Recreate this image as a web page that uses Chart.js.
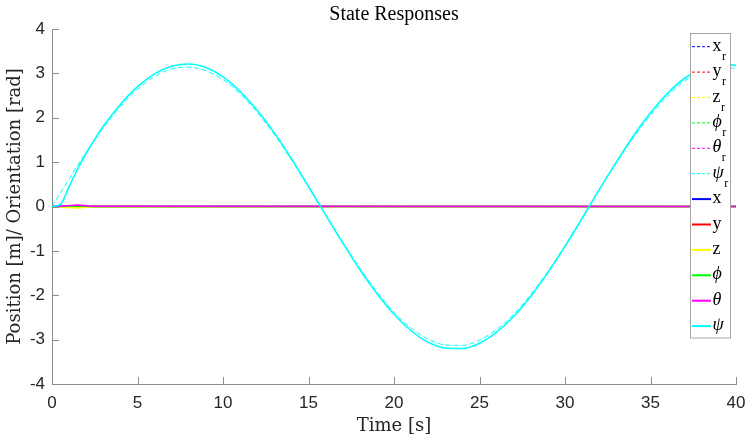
<!DOCTYPE html>
<html>
<head>
<meta charset="utf-8">
<script src="https://cdn.jsdelivr.net/npm/chart.js@4"></script>
<style>
html, body { margin: 0; padding: 0; background: #fff; }
</style>
</head>
<body>
<canvas id="myChart" width="747" height="439"></canvas>
<script>
// sample times [s] for the yaw curves
const time = [0, 0.5, 1, 1.5, 2, 3, 4, 5, 6, 7, 8, 9, 10, 11, 12, 13, 14, 15, 16, 17, 18, 19, 20,
              21, 22, 23, 24, 25, 26, 27, 28, 29, 30, 31, 32, 33, 34, 35, 36, 37, 38, 39, 40];

// reference yaw (dashed cyan)
const psiRef = [0, 0.31, 0.62, 0.93, 1.22, 1.77, 2.25, 2.64, 2.93, 3.10, 3.14, 3.06, 2.86, 2.54, 2.12, 1.62, 1.05, 0.44,
                -0.18, -0.80, -1.39, -1.92, -2.38, -2.74, -2.99, -3.12, -3.13, -3.01, -2.77, -2.43, -1.98, -1.46, -0.88,
                -0.26, 0.37, 0.98, 1.55, 2.06, 2.49, 2.83, 3.04, 3.14, 3.11];

// actual yaw (solid cyan)
const psi = [0, 0.05, 0.45, 0.85, 1.2, 1.81, 2.30, 2.70, 2.99, 3.16, 3.21, 3.13, 2.92, 2.59, 2.17, 1.66, 1.08, 0.45,
             -0.19, -0.82, -1.42, -1.96, -2.43, -2.80, -3.06, -3.19, -3.20, -3.08, -2.83, -2.48, -2.02, -1.49, -0.90,
             -0.27, 0.38, 1.00, 1.59, 2.11, 2.55, 2.89, 3.11, 3.21, 3.18];

// the other states stay close to zero
const flatTime = [0, 0.8, 1.5, 2.5, 40];
const xRef = [0, 0, 0, 0, 0];
const yRef = [0, 0, 0, 0, 0];
const zRef = [0, 0, 0, 0, 0];
const phiRef = [0, 0, 0, 0, 0];
const thetaRef = [0, 0, 0, 0, 0];
const xPos = [0, 0, 0, 0, 0];
const yPos = [0, 0.005, 0.01, 0, 0];
const zPos = [0, -0.02, -0.03, -0.005, 0];
const phi = [0, 0.005, 0.01, 0, 0];
const theta = [0, 0.015, 0.03, 0.005, 0];

const xTicks = [0, 5, 10, 15, 20, 25, 30, 35, 40];
const yTicks = [-4, -3, -2, -1, 0, 1, 2, 3, 4];

function pts(xs, ys) {
    return xs.map((t, i) => ({x: t, y: ys[i]}));
}

const series = [
    {main: 'x', sub: 'r', color: '#0000ff', dashed: true, xs: flatTime, ys: xRef},
    {main: 'y', sub: 'r', color: '#ff0000', dashed: true, xs: flatTime, ys: yRef},
    {main: 'z', sub: 'r', color: '#ffff00', dashed: true, xs: flatTime, ys: zRef},
    {main: '\u03D5', sub: 'r', color: '#00ff00', dashed: true, xs: flatTime, ys: phiRef},
    {main: '\u03B8', sub: 'r', color: '#ff00ff', dashed: true, xs: flatTime, ys: thetaRef},
    {main: '\u03C8', sub: 'r', color: '#00ffff', dashed: true, xs: time, ys: psiRef},
    {main: 'x', sub: '', color: '#0000ff', dashed: false, xs: flatTime, ys: xPos},
    {main: 'y', sub: '', color: '#ff0000', dashed: false, xs: flatTime, ys: yPos},
    {main: 'z', sub: '', color: '#ffff00', dashed: false, xs: flatTime, ys: zPos},
    {main: '\u03D5', sub: '', color: '#00ff00', dashed: false, xs: flatTime, ys: phi},
    {main: '\u03B8', sub: '', color: '#ff00ff', dashed: false, xs: flatTime, ys: theta},
    {main: '\u03C8', sub: '', color: '#00ffff', dashed: false, xs: time, ys: psi}
];

const axisColor = '#8c8c8c';
const serif = '"Liberation Serif", "DejaVu Serif", serif';
const cmLike = '"DejaVu Serif", "Liberation Serif", serif';
const sans = '"Liberation Sans", Arial, sans-serif';

const extras = {
    id: 'extras',
    afterDatasetsDraw(chart) {
        const ctx = chart.ctx;
        const area = chart.chartArea;
        const xs = chart.scales.x, ys = chart.scales.y;
        ctx.save();
        // inward ticks
        ctx.strokeStyle = axisColor;
        ctx.lineWidth = 1;
        ctx.beginPath();
        xTicks.forEach(v => {
            const px = Math.round(xs.getPixelForValue(v)) + 0.5;
            ctx.moveTo(px, area.bottom);
            ctx.lineTo(px, area.bottom - 7);
        });
        yTicks.forEach(v => {
            const py = Math.round(ys.getPixelForValue(v)) + 0.5;
            ctx.moveTo(area.left, py);
            ctx.lineTo(area.left + 7, py);
        });
        ctx.stroke();

        // legend box
        const bx = 690.5, by = 33.5, bw = 40, bh = 304.5;
        ctx.fillStyle = '#ffffff';
        ctx.fillRect(bx, by, bw, bh);
        ctx.strokeStyle = '#a6a6a6';
        ctx.strokeRect(bx, by, bw, bh);
        series.forEach((s, i) => {
            const y = 46.7 + i * 25.4;
            ctx.strokeStyle = s.color;
            ctx.lineWidth = s.dashed ? 1 : 2;
            ctx.setLineDash(s.dashed ? [3, 2] : []);
            ctx.beginPath();
            ctx.moveTo(692, y);
            ctx.lineTo(711, y);
            ctx.stroke();
            ctx.setLineDash([]);
            ctx.fillStyle = '#000000';
            ctx.textAlign = 'left';
            ctx.textBaseline = 'alphabetic';
            const greek = s.main.charCodeAt(0) > 255;
            ctx.font = (greek ? 'italic ' : '') + '18px ' + serif;
            ctx.fillText(s.main, 712.5, y + 4);
            if (s.sub) {
                const w = ctx.measureText(s.main).width;
                ctx.font = '12px ' + serif;
                ctx.fillText(s.sub, 712.5 + w + 0.5, y + 13);
            }
        });
        ctx.restore();
    },
    afterDraw(chart) {
        const ctx = chart.ctx;
        const area = chart.chartArea;
        ctx.save();
        ctx.fillStyle = '#000000';
        ctx.font = '20px ' + serif;
        ctx.textAlign = 'center';
        ctx.textBaseline = 'middle';
        ctx.fillText('State Responses', (area.left + area.right) / 2, 15);
        ctx.restore();
    }
};

const ctx = document.getElementById('myChart').getContext('2d');

const myChart = new Chart(ctx, {
    type: 'line',
    data: {
        datasets: series.map((s, i) => ({
            label: s.main + (s.sub ? '_' + s.sub : ''),
            data: pts(s.xs, s.ys),
            borderColor: s.color,
            backgroundColor: s.color,
            borderWidth: s.dashed ? 1 : 1.6,
            borderDash: s.dashed ? [5, 3] : [],
            pointRadius: 0,
            tension: 0.4,
            cubicInterpolationMode: 'monotone',
            fill: false,
            order: series.length - i
        }))
    },
    options: {
        responsive: false,
        animation: false,
        layout: {padding: {top: 29, right: 11, bottom: 0, left: 0}},
        plugins: {
            legend: {display: false},
            tooltip: {enabled: false},
            title: {display: false}
        },
        scales: {
            x: {
                type: 'linear',
                min: 0,
                max: 40,
                afterFit: (scale) => {
                    scale.height = 55;
                    scale.paddingLeft = 0;
                    scale.paddingRight = 0;
                },
                afterBuildTicks: (scale) => { scale.ticks = xTicks.map(v => ({value: v})); },
                grid: {display: false, drawTicks: false},
                border: {display: true, color: axisColor, width: 1},
                ticks: {color: '#262626', font: {family: sans, size: 17}, padding: 9, maxRotation: 0},
                title: {
                    display: true,
                    text: 'Time [s]',
                    color: '#262626',
                    font: {family: cmLike, size: 18},
                    padding: {top: 0, bottom: 2}
                }
            },
            y: {
                min: -4,
                max: 4,
                afterFit: (scale) => {
                    scale.width = 52;
                    scale.paddingTop = 0;
                    scale.paddingBottom = 0;
                },
                afterBuildTicks: (scale) => { scale.ticks = yTicks.map(v => ({value: v})); },
                grid: {display: false, drawTicks: false},
                border: {display: true, color: axisColor, width: 1},
                ticks: {color: '#262626', font: {family: sans, size: 17}, padding: 7},
                title: {
                    display: true,
                    text: 'Position [m]/ Orientation [rad]',
                    color: '#262626',
                    font: {family: cmLike, size: 18},
                    padding: {top: 5, bottom: 0}
                }
            }
        }
    },
    plugins: [extras]
});
</script>
</body>
</html>
